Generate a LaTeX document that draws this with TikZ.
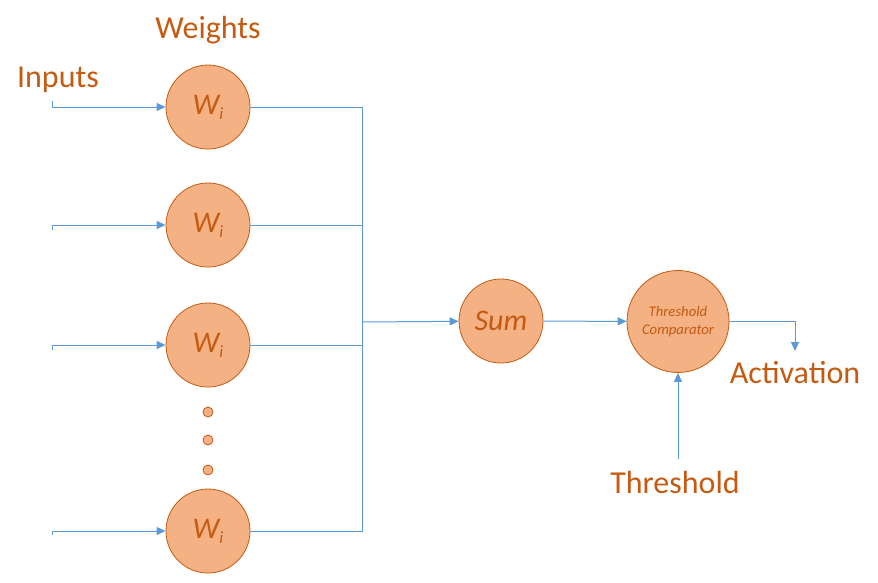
\documentclass[tikz,border=0pt]{standalone}
\usepackage{fontspec}
\setmainfont{Carlito}
\usepackage{tikz}
\usetikzlibrary{arrows.meta}

\definecolor{linkblue}{HTML}{5B9BD5}
\definecolor{rust}{HTML}{C55A11}
\definecolor{peach}{HTML}{F4B183}

\newcommand{\wsub}{W\raisebox{-5pt}{\fontsize{17}{17}\selectfont i}}

\begin{document}
\begin{tikzpicture}[x=1pt,y=-1pt,
    unit/.style={circle, draw=rust, fill=peach, line width=0.8pt, minimum size=84pt, inner sep=0pt,
        text=rust, font=\fontsize{30}{34}\selectfont\itshape},
    dot/.style={circle, draw=rust, fill=peach, line width=0.8pt, minimum size=10pt, inner sep=0pt},
    lbl/.style={text=rust, font=\fontsize{32}{38}\selectfont, inner sep=0pt, anchor=base},
    wire/.style={draw=linkblue, line width=1pt},
    feed/.style={wire, -{Triangle[length=9pt,width=8pt]}}]
        \useasboundingbox (0,0) rectangle (878,582);
        \coordinate (i1) at (52,101);
        \coordinate (i2) at (52,230);
        \coordinate (i3) at (52,350);
        \coordinate (i4) at (52,535);
        \coordinate (bus) at (362,322);
        \coordinate (out) at (795,351);
        \coordinate (th) at (678,459);

        % Weights.
        \node[unit] (w1) at (208,107) {\wsub};
        \node[unit] (w2) at (208,225) {\wsub};
        \node[unit] (w3) at (208,345) {\wsub};
        \node[unit] (w4) at (208,531) {\wsub};
        \foreach \y in {412,440,470}
            \node[dot] (d\y) at (208,\y) {};
        \node[lbl] (weights) at (208,38) {Weights};
        \node[lbl] (inputs) at (58,87) {Inputs};

        %inputs and bus
        \foreach \n in {1,...,4} {
            \draw[feed] (i\n) |- (w\n);
            \draw[wire] (w\n) -| (bus);
        }

        %sum and comparator
        \node[unit] (sum) at (501,321) {Sum};
        \node[unit, minimum size=102pt, font=\fontsize{14.7}{18}\selectfont\itshape, align=center]
            (thr) at (678,321.5) {Threshold\\Comparator};
        \draw[feed] (bus) -- (sum);
        \draw[feed] (sum) -- (thr);
        \draw[feed] (thr) -| (out);
        \draw[feed] (th) -- (thr);
        \node[lbl] (activation) at (795,383) {Activation};
        \node[lbl] (threshold) at (675,493) {Threshold};
    \end{tikzpicture}
\end{document}
